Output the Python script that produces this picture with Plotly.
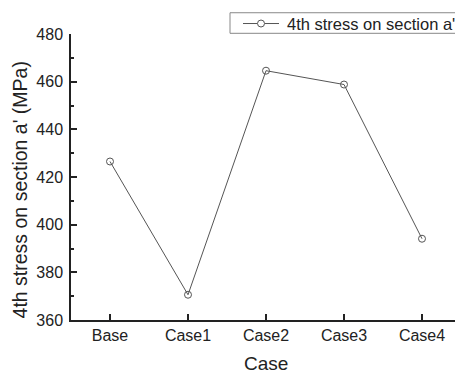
import plotly.graph_objects as go

categories = ["Base", "Case1", "Case2", "Case3", "Case4"]
stress = [426.5, 370.6, 464.6, 458.8, 394.1]
series_name = "4th stress on section a'"
y_ticks = [360, 380, 400, 420, 440, 460, 480]

W, H = 455, 373
L, R, T, B = 71, 0, 34, 52.5
PW, PH = W - L - R, H - T - B


def px(xp):
    return (xp - L) / PW


def py(yp):
    return 1 - (yp - T) / PH


LINE_COL = "#555555"
AX_COL = "#222222"
font = dict(family="Liberation Sans, Arial, sans-serif", color=AX_COL)

fig = go.Figure()
fig.add_trace(go.Scatter(
    x=list(range(len(categories))), y=stress, mode="lines+markers",
    name=series_name, showlegend=False,
    line=dict(color=LINE_COL, width=1),
    marker=dict(symbol="circle-open", size=7, color=LINE_COL, line=dict(width=1)),
))

# legend drawn as decoration (box partially cropped on the right, as in the reference)
shapes = [
    dict(type="rect", xref="paper", yref="paper", x0=px(230), x1=px(480), y0=py(12.7), y1=py(33.3),
         line=dict(color="#888888", width=1), fillcolor="white", layer="above"),
    dict(type="line", xref="paper", yref="paper", x0=px(243), x1=px(257.5), y0=py(23.5), y1=py(23.5),
         line=dict(color=LINE_COL, width=1), layer="above"),
    dict(type="line", xref="paper", yref="paper", x0=px(264.5), x1=px(279), y0=py(23.5), y1=py(23.5),
         line=dict(color=LINE_COL, width=1), layer="above"),
    dict(type="circle", xref="paper", yref="paper", x0=px(257.5), x1=px(264.5), y0=py(20), y1=py(27),
         line=dict(color=LINE_COL, width=1), fillcolor="white", layer="above"),
]

annotations = [
    dict(text=series_name, xref="paper", yref="paper", x=px(285), y=py(23.5),
         xanchor="left", yanchor="middle", showarrow=False, font=dict(**font, size=16.5)),
    dict(text="Case", xref="paper", yref="paper", x=px(266), y=py(364),
         xanchor="center", yanchor="middle", showarrow=False, font=dict(**font, size=19)),
    dict(text="4th stress on section a' (MPa)", xref="paper", yref="paper", x=px(19.7), y=py(190),
         xanchor="center", yanchor="middle", showarrow=False, textangle=-90,
         font=dict(**font, size=19.5)),
]

fig.update_layout(
    width=W, height=H,
    margin=dict(l=L, r=R, t=T, b=B, autoexpand=False),
    paper_bgcolor="white", plot_bgcolor="white",
    font=dict(**font, size=16),
    showlegend=False,
    shapes=shapes,
    annotations=annotations,
    xaxis=dict(
        range=[-0.5, -0.5 + PW / 78.0],
        tickmode="array", tickvals=list(range(len(categories))), ticktext=categories,
        ticks="inside", ticklen=6, tickwidth=1.5, tickcolor=AX_COL,
        showline=True, linecolor=AX_COL, linewidth=1.5,
        showgrid=False, zeroline=False,
        tickfont=dict(**font, size=16),
    ),
    yaxis=dict(
        range=[360, 480],
        tickmode="array", tickvals=y_ticks,
        ticks="inside", ticklen=6, tickwidth=1.5, tickcolor=AX_COL,
        minor=dict(dtick=10, ticks="inside", ticklen=3, tickwidth=1.5, tickcolor=AX_COL, showgrid=False),
        showline=True, linecolor=AX_COL, linewidth=1.5,
        showgrid=False, zeroline=False,
        ticklabelstandoff=3,
        tickfont=dict(**font, size=16),
    ),
)

fig.write_html("out.html")
